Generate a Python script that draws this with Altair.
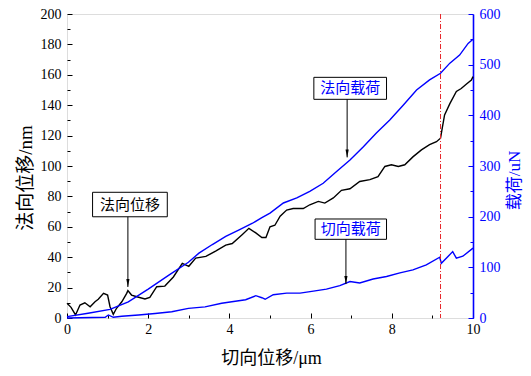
import altair as alt
import pandas as pd

# 法向位移 (nm)
disp_x = [0.0, 0.1, 0.21, 0.32, 0.44, 0.57, 0.69, 0.77, 0.9, 1.0, 1.06, 1.14, 1.22, 1.35, 1.47, 1.5,
          1.59, 1.72, 1.92, 2.04, 2.21, 2.41, 2.62, 2.84, 3.0, 3.17, 3.42, 3.66, 3.91, 4.07, 4.32,
          4.48, 4.65, 4.8, 4.9, 5.0, 5.12, 5.25, 5.41, 5.57, 5.82, 5.98, 6.19, 6.35, 6.56, 6.76,
          6.97, 7.21, 7.46, 7.66, 7.83, 7.99, 8.16, 8.32, 8.52, 8.73, 8.93, 9.1, 9.2, 9.25, 9.3,
          9.43, 9.59, 9.71, 9.84, 9.96, 10.0]
disp_y = [9.7, 7.0, 2.0, 8.5, 10.0, 7.4, 10.7, 12.3, 16.2, 15.1, 7.4, 2.4, 6.4, 10.7, 16.2, 18.0,
          15.1, 14.0, 12.5, 13.6, 20.6, 21.0, 27.0, 36.0, 34.0, 39.4, 40.5, 44.0, 48.0, 49.0, 55.0,
          59.0, 56.0, 53.0, 53.0, 60.0, 61.0, 67.0, 71.0, 72.0, 72.0, 74.5, 76.7, 75.6, 79.0, 84.0,
          85.0, 89.8, 91.0, 93.0, 99.7, 100.8, 99.7, 100.8, 106.0, 110.6, 114.0, 116.0, 118.3, 126.0,
          133.6, 141.0, 149.0, 151.0, 154.0, 156.6, 158.8]

# 法向载荷 (uN)
normal_x = [0.0, 0.52, 1.06, 1.51, 2.0, 2.5, 2.99, 3.25, 3.58, 3.91, 4.24, 4.57, 4.8, 5.0, 5.33,
            5.66, 5.98, 6.31, 6.64, 6.97, 7.3, 7.62, 7.95, 8.28, 8.61, 8.93, 9.2, 9.43, 9.67, 9.88, 10.0]
normal_y = [2.6, 9.3, 17.0, 32.0, 57.0, 84.0, 110.0, 128.0, 145.0, 161.0, 174.0, 187.0, 198.0, 207.0,
            227.0, 237.0, 250.0, 266.0, 289.0, 312.0, 338.0, 365.0, 391.0, 420.0, 450.0, 470.0, 483.0,
            503.0, 519.0, 542.0, 550.0]

# 切向载荷 (uN)
tang_x = [0.0, 0.94, 1.02, 1.14, 1.35, 1.76, 2.17, 2.58, 2.99, 3.4, 3.81, 4.06, 4.4, 4.65, 4.8, 4.88,
          5.08, 5.41, 5.74, 6.07, 6.39, 6.72, 6.97, 7.21, 7.54, 7.87, 8.2, 8.52, 8.85, 9.18, 9.22,
          9.39, 9.5, 9.59, 9.75, 10.0]
tang_y = [0.0, 1.4, 6.0, 1.4, 3.5, 6.0, 9.0, 12.4, 19.0, 22.0, 29.0, 32.0, 36.0, 44.0, 40.0, 37.0,
          46.0, 49.0, 49.0, 53.0, 57.0, 64.0, 72.0, 69.0, 77.0, 82.0, 89.0, 95.0, 105.0, 120.0, 108.0,
          122.0, 131.0, 118.0, 122.0, 138.0]

# 标记线位置
marker_x = [9.2]

# 注释 (left axis: nm)
ann_a_text = ["法向位移"]
ann_a_box = {"x": [0.63], "x2": [2.47], "y": [66.6], "y2": [82.7]}
ann_a_arrow = {"x": [1.5], "top": [66.6], "tip": [20.4]}
# 注释 (right axis: uN)
ann_b_text = ["法向载荷", "切向载荷"]
ann_b_box = {"x": [6.08, 6.11], "x2": [7.87, 7.87], "y": [431.6, 155.3], "y2": [475.0, 195.4]}
ann_b_arrow = {"x": [6.9, 6.87], "top": [431.6, 155.3], "tip": [317.0, 67.0]}

BLUE = "#0000FF"
LATIN = "Liberation Serif"
MIXED = "Liberation Serif, Noto Sans CJK SC"

disp_df = pd.DataFrame({"x": disp_x, "y": disp_y})
load_df = pd.concat([
    pd.DataFrame({"x": normal_x, "y": normal_y, "s": "法向载荷"}),
    pd.DataFrame({"x": tang_x, "y": tang_y, "s": "切向载荷"}),
])
ann_a = pd.DataFrame({"t": ann_a_text, "x": ann_a_box["x"], "x2": ann_a_box["x2"],
                      "y": ann_a_box["y"], "y2": ann_a_box["y2"],
                      "ax": ann_a_arrow["x"], "top": ann_a_arrow["top"], "tip": ann_a_arrow["tip"]})
ann_a["cx"] = (ann_a["x"] + ann_a["x2"]) / 2
ann_a["cy"] = (ann_a["y"] + ann_a["y2"]) / 2
ann_b = pd.DataFrame({"t": ann_b_text, "x": ann_b_box["x"], "x2": ann_b_box["x2"],
                      "y": ann_b_box["y"], "y2": ann_b_box["y2"],
                      "ax": ann_b_arrow["x"], "top": ann_b_arrow["top"], "tip": ann_b_arrow["tip"]})
ann_b["cx"] = (ann_b["x"] + ann_b["x2"]) / 2
ann_b["cy"] = (ann_b["y"] + ann_b["y2"]) / 2
marker_df = pd.DataFrame({"x": marker_x})

xs = alt.Scale(domain=[0, 10], nice=False, zero=False)
ys_nm = alt.Scale(domain=[0, 200], nice=False)
ys_un = alt.Scale(domain=[0, 600], nice=False)

tick_common = dict(domain=False, grid=False, labelFont=LATIN, labelFontSize=14)

x_major = alt.Axis(orient="bottom", values=[0, 2, 4, 6, 8, 10], offset=-5, tickSize=5,
                   labelPadding=4, tickColor="black", labelColor="black",
                   title="切向位移/μm", titleFont=MIXED, titleFontSize=18, titleFontWeight="normal",
                   titleColor="black", titleX=204, titleY=45.5, titleBaseline="middle",
                   titleAlign="center", labelFlush=False, **tick_common)
x_minor = alt.Axis(orient="bottom", values=[1, 3, 5, 7, 9], offset=-3, tickSize=3, labels=False,
                   tickColor="black", title=None, domain=False, grid=False)
y_major = alt.Axis(orient="left", values=list(range(0, 201, 20)), offset=-5, tickSize=5,
                   labelPadding=6, tickColor="black", labelColor="black",
                   title="法向位移/nm", titleFont=MIXED, titleFontSize=19, titleFontWeight="normal",
                   titleColor="black", titleX=-47, titleY=163.5, titleAngle=270,
                   titleBaseline="middle", titleAlign="center", labelFlush=False, **tick_common)
y_minor = alt.Axis(orient="left", values=list(range(10, 200, 20)), offset=-3, tickSize=3,
                   labels=False, tickColor="black", title=None, domain=False, grid=False)
r_major = alt.Axis(orient="right", values=list(range(0, 601, 100)), offset=-5, tickSize=5,
                   labelPadding=6, tickColor=BLUE, labelColor=BLUE,
                   title="载荷/uN", titleFont=MIXED, titleFontSize=17, titleFontWeight="normal",
                   titleColor=BLUE, titleX=46, titleY=166, titleAngle=270,
                   titleBaseline="middle", titleAlign="center", labelFlush=False, **tick_common)
r_minor = alt.Axis(orient="right", values=list(range(50, 600, 100)), offset=-3, tickSize=3,
                   labels=False, tickColor=BLUE, title=None, domain=False, grid=False)
r_domain = alt.Axis(orient="right", offset=0, ticks=False, labels=False, title=None, grid=False,
                    domain=True, domainColor=BLUE, domainWidth=1.6)

# ---- group A: displacement (nm) ----
a_line = alt.Chart(disp_df).mark_line(color="black", strokeWidth=1.4).encode(
    x=alt.X("x:Q", scale=xs, axis=x_major),
    y=alt.Y("y:Q", scale=ys_nm, axis=y_major),
)
a_help = alt.Chart(disp_df).mark_line(opacity=0).encode(
    x=alt.X("x:Q", scale=xs, axis=x_minor),
    y=alt.Y("y:Q", scale=ys_nm, axis=y_minor),
)
a_rect = alt.Chart(ann_a).mark_rect(fill="white", stroke="black", strokeWidth=1).encode(
    x=alt.X("x:Q", scale=xs, axis=None), x2="x2:Q",
    y=alt.Y("y:Q", scale=ys_nm, axis=None), y2="y2:Q",
)
a_text = alt.Chart(ann_a).mark_text(font=MIXED, fontSize=15, color="black").encode(
    x=alt.X("cx:Q", scale=xs, axis=None),
    y=alt.Y("cy:Q", scale=ys_nm, axis=None),
    text="t:N",
)
a_arrow = alt.Chart(ann_a).mark_rule(color="black", strokeWidth=1).encode(
    x=alt.X("ax:Q", scale=xs, axis=None),
    y=alt.Y("top:Q", scale=ys_nm, axis=None), y2="tip:Q",
)
a_head = alt.Chart(ann_a).mark_point(shape="M0,1 L-0.4,-1 L0.4,-1 Z", filled=True, size=64,
                                     color="black", opacity=1, yOffset=-4).encode(
    x=alt.X("ax:Q", scale=xs, axis=None),
    y=alt.Y("tip:Q", scale=ys_nm, axis=None),
)
group_a = alt.layer(a_line, a_help, a_rect, a_text, a_arrow, a_head).resolve_axis(
    x="independent", y="independent")

# ---- group B: loads (uN) ----
b_lines = alt.Chart(load_df).mark_line(color=BLUE, strokeWidth=1.4).encode(
    x=alt.X("x:Q", scale=xs, axis=None),
    y=alt.Y("y:Q", scale=ys_un, axis=r_major),
    detail="s:N",
)
b_help = alt.Chart(load_df).mark_line(opacity=0).encode(
    x=alt.X("x:Q", scale=xs, axis=None),
    y=alt.Y("y:Q", scale=ys_un, axis=r_minor),
    detail="s:N",
)
b_help2 = alt.Chart(load_df).mark_line(opacity=0).encode(
    x=alt.X("x:Q", scale=xs, axis=None),
    y=alt.Y("y:Q", scale=ys_un, axis=r_domain),
    detail="s:N",
)
b_rect = alt.Chart(ann_b).mark_rect(fill="white", stroke="black", strokeWidth=1).encode(
    x=alt.X("x:Q", scale=xs, axis=None), x2="x2:Q",
    y=alt.Y("y:Q", scale=ys_un, axis=None), y2="y2:Q",
)
b_text = alt.Chart(ann_b).mark_text(font=MIXED, fontSize=15, color=BLUE).encode(
    x=alt.X("cx:Q", scale=xs, axis=None),
    y=alt.Y("cy:Q", scale=ys_un, axis=None),
    text="t:N",
)
b_arrow = alt.Chart(ann_b).mark_rule(color="black", strokeWidth=1).encode(
    x=alt.X("ax:Q", scale=xs, axis=None),
    y=alt.Y("top:Q", scale=ys_un, axis=None), y2="tip:Q",
)
b_head = alt.Chart(ann_b).mark_point(shape="M0,1 L-0.4,-1 L0.4,-1 Z", filled=True, size=64,
                                     color="black", opacity=1, yOffset=-4).encode(
    x=alt.X("ax:Q", scale=xs, axis=None),
    y=alt.Y("tip:Q", scale=ys_un, axis=None),
)
group_b = alt.layer(b_lines, b_help, b_help2, b_rect, b_text, b_arrow, b_head).resolve_axis(
    y="independent")

marker = alt.Chart(marker_df).mark_rule(color="#E8262A", strokeWidth=1,
                                        strokeDash=[5, 2, 1, 2]).encode(
    x=alt.X("x:Q", scale=xs, axis=None),
)

chart = alt.layer(group_a, group_b, marker).resolve_scale(y="independent").properties(
    width=406, height=304,
    autosize=alt.AutoSizeParams(type="none"),
    padding={"left": 59, "top": 6, "right": 50, "bottom": 50},
).configure_view(stroke="black", strokeWidth=1.4).configure(background="white")

chart.save("out.html", embed_options={"renderer": "svg", "actions": False})
